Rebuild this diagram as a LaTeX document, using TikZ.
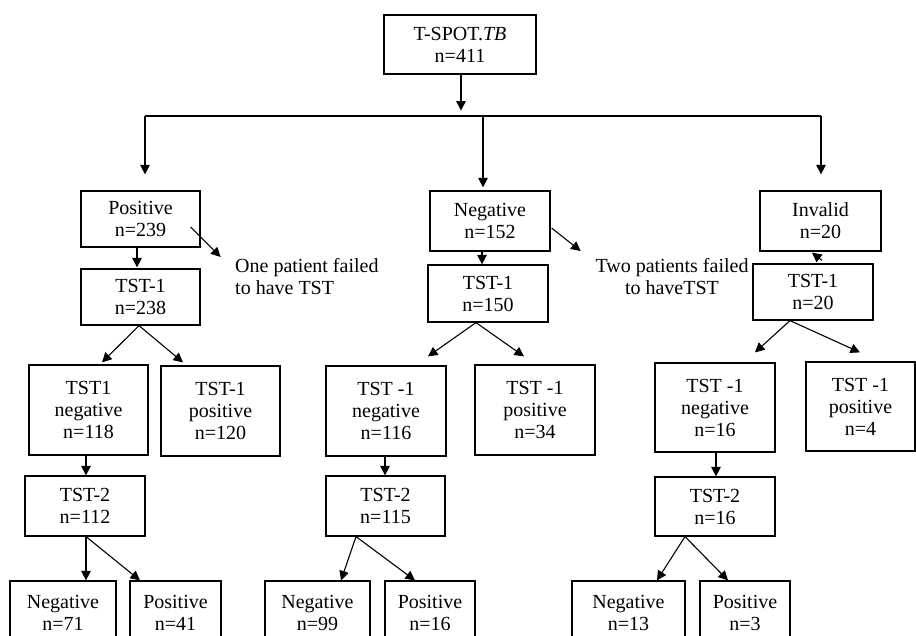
\documentclass[tikz,border=0pt]{standalone}
\usepackage{fontspec}
\setmainfont{Liberation Serif}
\usetikzlibrary{arrows.meta}
\newcommand\fsz{\fontsize{20}{22}\selectfont}
\tikzset{
  box/.style={draw, line width=1.2pt, inner sep=0pt, align=center, font=\fsz},
  lbl/.style={inner sep=0pt, font=\fsz},
  arr/.style={-{Triangle[length=9.5pt,width=9.5pt]}, line width=1.1pt},
  plain/.style={line width=1.1pt}
}
\begin{document}
\begin{tikzpicture}[x=1pt,y=-1pt]
\useasboundingbox (0,0) rectangle (916,636);
\clip (0,0) rectangle (916,636);
\fill[white] (0,0) rectangle (916,636);
% top
\node[box, minimum width=152, minimum height=59] (top) at (460,44.5) {T-SPOT.\textit{TB}\\n=411};
\coordinate (jl) at (145,116);
\coordinate (jm) at (483,116);
\coordinate (jr) at (821,116);
% left column
\node[box, minimum width=119, minimum height=56] (pos) at (140.5,219) {Positive\\n=239};
\node[box, minimum width=119, minimum height=56] (tstA) at (140.5,297) {TST-1\\n=238};
\node[box, minimum width=119, minimum height=90] (negA) at (88.5,410) {TST1\\negative\\n=118};
\node[box, minimum width=119, minimum height=90] (posA) at (220.5,411) {TST-1\\positive\\n=120};
\node[box, minimum width=120, minimum height=60] (tstAA) at (85,506) {TST-2\\n=112};
\node[box, minimum width=106, minimum height=64] (nA) at (63,613) {Negative\\n=71};
\node[box, minimum width=91, minimum height=64] (pA) at (175.5,613) {Positive\\n=41};
\node[lbl, anchor=west, align=left] (failA) at (235,276.5) {One patient failed\\to have TST};
% middle column
\node[box, minimum width=120, minimum height=60] (neg) at (490,221) {Negative\\n=152};
\node[box, minimum width=120, minimum height=57] (tstB) at (488,293.5) {TST-1\\n=150};
\node[box, minimum width=120, minimum height=90] (negB) at (386,411) {TST -1\\negative\\n=116};
\node[box, minimum width=120, minimum height=90] (posB) at (535,410) {TST -1\\positive\\n=34};
\node[box, minimum width=119, minimum height=60] (tstBB) at (385.5,506) {TST-2\\n=115};
\node[box, minimum width=105, minimum height=64] (nB) at (317.5,613) {Negative\\n=99};
\node[box, minimum width=90, minimum height=64] (pB) at (430,613) {Positive\\n=16};
\node[lbl, align=center] (failB) at (672,276.5) {Two patients failed\\to haveTST};
% right column
\node[box, minimum width=121, minimum height=60] (inv) at (820.5,221) {Invalid\\n=20};
\node[box, minimum width=120, minimum height=56] (tstC) at (813,292) {TST-1\\n=20};
\node[box, minimum width=120, minimum height=89] (negC) at (715,407.5) {TST -1\\negative\\n=16};
\node[box, minimum width=109, minimum height=89] (posC) at (860.5,406.5) {TST -1\\positive\\n=4};
\node[box, minimum width=120, minimum height=59] (tstCC) at (715,506.5) {TST-2\\n=16};
\node[box, minimum width=113, minimum height=64] (nC) at (628.5,613) {Negative\\n=13};
\node[box, minimum width=90, minimum height=64] (pC) at (745,613) {Positive\\n=3};
% connectors
\draw[arr] ([shift={(1,0)}]top.south) -- ([shift={(1,36)}]top.south);
\draw[plain] (jl) -- (jr);
\draw[arr] (jl) -- ([shift={(4.5,-16)}]pos.north);
\draw[arr] (jm) -- ([shift={(-7,-3)}]neg.north);
\draw[arr] (jr) -- ([shift={(0.5,-16)}]inv.north);
% left
\draw[arr] ([shift={(-3.5,0)}]pos.south) -- ([shift={(-3.5,-1)}]tstA.north);
\draw[arr] ([shift={(-10,8)}]pos.east) -- ([shift={(20,38)}]pos.east);
\draw[arr] ([shift={(-1.5,0)}]tstA.south) -- ([shift={(13.5,-2)}]negA.north);
\draw[arr] ([shift={(-1.5,0)}]tstA.south) -- ([shift={(-37.5,-3)}]posA.north);
\draw[arr] ([shift={(-2.5,0)}]negA.south) -- ([shift={(1,0)}]tstAA.north);
\draw[arr] ([shift={(1,0)}]tstAA.south) -- ([shift={(23,0)}]nA.north);
\draw[arr] ([shift={(1,0)}]tstAA.south) -- ([shift={(-35.5,0)}]pA.north);
% middle
\draw[arr] ([shift={(-8,0)}]neg.south) -- ([shift={(-6,0)}]tstB.north);
\draw[arr] ([shift={(1,7)}]neg.east) -- ([shift={(30,30)}]neg.east);
\draw[arr] ([shift={(-12,0)}]tstB.south) -- ([shift={(42,-9)}]negB.north);
\draw[arr] ([shift={(-12,0)}]tstB.south) -- ([shift={(-11,-8)}]posB.north);
\draw[arr] ([shift={(-1,0)}]negB.south) -- ([shift={(-0.5,0)}]tstBB.north);
\draw[arr] ([shift={(-29.5,0)}]tstBB.south) -- ([shift={(23.5,0)}]nB.north);
\draw[arr] ([shift={(-29.5,0)}]tstBB.south) -- ([shift={(-15,0)}]pB.north);
% right
\draw[arr] ([shift={(9,-3)}]tstC.north) -- ([shift={(-8.5,1)}]inv.south);
\draw[arr] ([shift={(-23,0)}]tstC.south) -- ([shift={(40,-10)}]negC.north);
\draw[arr] ([shift={(-23,0)}]tstC.south) -- ([shift={(-0.5,-9)}]posC.north);
\draw[arr] ([shift={(1,0)}]negC.south) -- ([shift={(1,0)}]tstCC.north);
\draw[arr] ([shift={(-30,0)}]tstCC.south) -- ([shift={(28.5,0)}]nC.north);
\draw[arr] ([shift={(-30,0)}]tstCC.south) -- ([shift={(-17,0)}]pC.north);
\end{tikzpicture}
\end{document}
